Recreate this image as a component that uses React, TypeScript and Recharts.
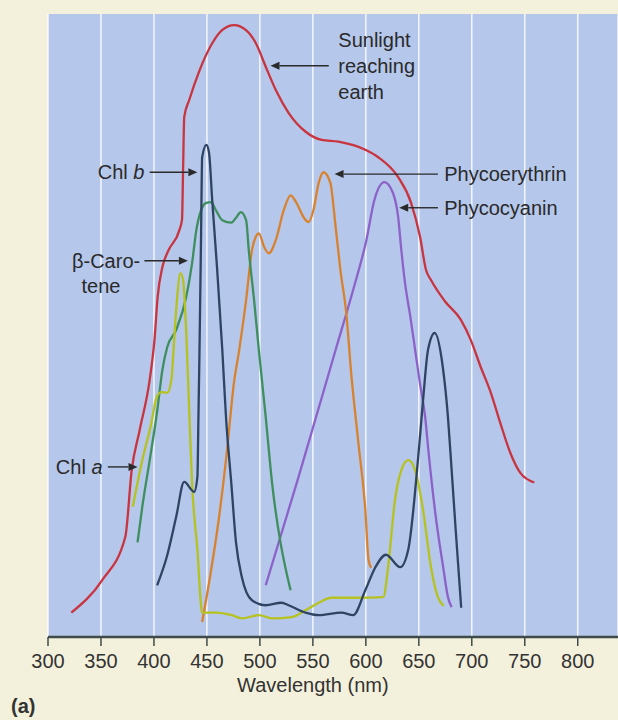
import React from "react";
import {
  LineChart,
  Line,
  XAxis,
  YAxis,
  CartesianGrid,
  ReferenceLine,
  ReferenceDot,
} from "recharts";

// [wavelength nm, relative absorption 0-100]
const sunlight = [
  [322, 3.9], [351, 9.1], [373, 16.1], [379, 26.8], [386.5, 33.2], [396, 41.3],
  [400.5, 47.7], [403.5, 54.6], [408, 59.4], [413.5, 62], [424, 65.3],
  [426.5, 67], [427.5, 75], [428.6, 83.5], [433.3, 86.2], [442.7, 90.8],
  [455, 95.3], [464.3, 97.4], [475.6, 98.2], [486.9, 97.4], [496.2, 95.3],
  [505.6, 91.5], [515, 87.8], [527.2, 84.1], [543.2, 81.1], [558.2, 79.8],
  [574.2, 79.5], [599.5, 78.2], [611.7, 77], [630.5, 73.8], [642.7, 69.7],
  [651.2, 64.2], [656.8, 58.9], [661.5, 57.3], [674.6, 53.9], [689.7, 50.9],
  [699, 47.7], [708.5, 43.3], [718, 39.2], [727, 34.3], [736.5, 29.5],
  [746, 26.3], [759, 24.8],
];

const chlB = [
  [403, 8.3], [412, 12.8], [421, 19.3], [428.5, 24.9], [438, 23.3], [441, 25.7],
  [442, 35.3], [443, 46.1], [444.5, 64.8], [445.5, 77], [449.5, 79], [452, 77.7],
  [455, 70.1], [459.5, 59.4], [464.5, 46.1], [468, 35.3], [473, 24.7],
  [477.5, 15.1], [483, 9.6], [492.5, 5.9], [505.5, 5.1], [520.5, 5.5],
  [527, 5.1], [543, 3.9], [555.5, 3.5], [577, 3.9], [588, 3.5], [599.5, 7.5],
  [609, 11.2], [619, 13.2], [632.5, 11.2], [640, 14], [650, 30], [654, 38],
  [658.7, 46.1], [665, 48.8], [672.5, 43.5], [677.5, 35.3], [680.5, 28],
  [685, 16.7], [690, 4.7],
];

const chlA = [
  [380, 20.9], [389, 28.4], [397.5, 34.3], [402.5, 38.5], [407, 39.3],
  [412.5, 39.2], [416.5, 41.3], [418.5, 46.1], [421, 52.5], [425, 58.4],
  [427.5, 57.3], [430.5, 48.8], [433.5, 35.3], [436, 24.7], [441, 14],
  [445.5, 3.9], [449.5, 3.9], [458.5, 3.9], [473.5, 3.5], [483, 3], [499, 3.5],
  [511.5, 3], [530, 3.2], [543, 4.3], [555.5, 5.5], [567.5, 6.3], [593, 6.3],
  [616.5, 6.4], [621, 11.2], [627.5, 22], [633.5, 26.8], [640, 28.4],
  [646.5, 26.8], [654, 20.4], [661.5, 11.2], [668, 6.4], [673.5, 5],
];

const betaCarotene = [
  [384.5, 15.2], [389, 20.9], [396, 28.4], [403, 36.2], [408, 42.9],
  [412.5, 46.5], [421, 49.3], [430.5, 54.6], [436, 60], [440, 65.3],
  [444.5, 68.5], [449.5, 69.7], [454, 69.8], [458.5, 68.5], [464.5, 66.9],
  [473, 66.5], [477.5, 67.3], [482, 68.2], [487, 66.9], [489.5, 62.1],
  [494.5, 54.1], [499, 46.1], [505.5, 35.3], [511.5, 24.7], [519.5, 15.1],
  [524.5, 10.8], [529, 7.5],
];

const phycoerythrin = [
  [445.5, 2.4], [452, 8.7], [461.5, 19.3], [469, 30], [475.5, 40.8],
  [480.5, 46.1], [487, 54.1], [492.5, 62.1], [496, 64.2], [499, 64.8],
  [504, 62.6], [508.5, 61.6], [515, 63.7], [522.5, 68.5], [529, 70.9],
  [534.5, 69.7], [541.5, 67.3], [546, 66.6], [550.5, 68.5], [555.5, 72.9],
  [560, 74.6], [566.5, 72.9], [571.5, 65.8], [576, 58.9], [581.5, 52],
  [586.5, 41.7], [593, 31.1], [599.5, 20.4], [602.5, 12.4], [605, 11.1],
];

const phycocyanin = [
  [505.5, 8.3], [536.5, 25.7], [571.5, 46.1], [588, 55.7], [600.5, 63.7],
  [608, 70.1], [617.5, 73], [625.5, 71.3], [630.5, 67.4], [633.5, 62.1],
  [637, 56.8], [642, 51.4], [646.5, 46.1], [651, 40.8], [656, 35.3],
  [659, 30], [666, 19.3], [673, 11.2], [677.5, 6.4], [681, 4.8],
];

const xTicks = [300, 350, 400, 450, 500, 550, 600, 650, 700, 750, 800];
const X_MIN = 300;
const X_MAX = 838;

const series = [
  { name: "Sunlight reaching earth", pts: sunlight, color: "#c9343f" },
  { name: "Phycocyanin", pts: phycocyanin, color: "#8c62c9" },
  { name: "Phycoerythrin", pts: phycoerythrin, color: "#d9822e" },
  { name: "β-Carotene", pts: betaCarotene, color: "#3f8e5e" },
  { name: "Chl a", pts: chlA, color: "#b6c21e" },
  { name: "Chl b", pts: chlB, color: "#2e4462" },
];

// callout text lines: [text ("|" starts italic part), nm, absorption, anchor]
const calloutLabels: [string, number, number, string][] = [
  ["Sunlight", 574, 95.9, "start"],
  ["reaching", 574, 91.7, "start"],
  ["earth", 574, 87.5, "start"],
  ["Phycoerythrin", 674, 74.3, "start"],
  ["Phycocyanin", 674, 68.9, "start"],
  ["Chl |b", 391, 74.6, "end"],
  ["β-Caro-", 387, 60.4, "end"],
  ["tene", 350, 56.3, "middle"],
  ["Chl |a", 351.5, 27.3, "end"],
];

// callout arrows: [tail nm, head nm, absorption]
const calloutArrows: [number, number, number][] = [
  [565, 510, 91.7],
  [668, 570.5, 74.3],
  [668, 631.5, 68.9],
  [396, 441, 74.6],
  [391, 432, 60.4],
  [356.5, 384.5, 27.3],
];

const FONT = "'Liberation Sans', Arial, Helvetica, sans-serif";
const INK = "#2a2a2a";

function Arrow(p: any) {
  const { x1, y1, x2, y2 } = p;
  const dx = x2 - x1;
  const dy = y2 - y1;
  const len = Math.sqrt(dx * dx + dy * dy) || 1;
  const ux = dx / len;
  const uy = dy / len;
  const hl = 9;
  const hw = 4;
  const bx = x2 - ux * hl;
  const by = y2 - uy * hl;
  return (
    <g>
      <line x1={x1} y1={y1} x2={bx} y2={by} stroke={INK} strokeWidth={1.4} />
      <polygon
        points={`${x2},${y2} ${bx - uy * hw},${by + ux * hw} ${bx + uy * hw},${by - ux * hw}`}
        fill={INK}
      />
    </g>
  );
}

function labelShape(txt: string, anchor: string) {
  return (p: any) => {
    const [plain, ital] = txt.split("|");
    return (
      <text
        x={p.cx}
        y={p.cy}
        dy="0.35em"
        textAnchor={anchor}
        fontFamily={FONT}
        fontSize={20}
        fill={INK}
      >
        {plain}
        {ital !== undefined && <tspan fontStyle="italic">{ital}</tspan>}
      </text>
    );
  };
}

export default function App() {
  return (
    <div style={{ position: "relative", width: 618, height: 720, background: "#f3f1dc" }}>
      <style>{"body{margin:0}"}</style>
      <LineChart
        width={618}
        height={720}
        margin={{ top: 14, right: 0, left: 48, bottom: 23 }}
      >
        <CartesianGrid
          horizontal={false}
          fill="#b5c7ea"
          stroke="#ffffff"
          strokeOpacity={0.85}
          strokeWidth={1.5}
        />
        <XAxis
          type="number"
          dataKey="nm"
          domain={[X_MIN, X_MAX]}
          ticks={xTicks}
          allowDataOverflow
          height={60}
          tickSize={9}
          tickMargin={8}
          tick={{ fontSize: 20, fill: "#333", fontFamily: FONT }}
          axisLine={{ stroke: "#3f4b49", strokeWidth: 2.5 }}
          tickLine={{ stroke: "#3f4b49", strokeWidth: 1.5 }}
          label={{
            content: (p: any) => {
              const vb = p.viewBox;
              return (
                <text
                  x={vb.x + (vb.width * (550 - X_MIN)) / (X_MAX - X_MIN)}
                  y={vb.y + 55}
                  textAnchor="middle"
                  fontFamily={FONT}
                  fontSize={20}
                  fill="#333"
                >
                  Wavelength (nm)
                </text>
              );
            },
          }}
        />
        <YAxis
          type="number"
          domain={[0, 100]}
          width={0}
          tick={false}
          tickLine={false}
          axisLine={{ stroke: "#3f5a4f", strokeWidth: 1.5 }}
          label={{
            content: (p: any) => {
              const vb = p.viewBox;
              const x = vb.x - 26;
              const y = vb.y + vb.height * 0.467;
              return (
                <text
                  x={x}
                  y={y}
                  transform={`rotate(-90, ${x}, ${y})`}
                  textAnchor="middle"
                  dy="0.35em"
                  fontFamily={FONT}
                  fontSize={19}
                  fill="#333"
                >
                  Absorption
                </text>
              );
            },
          }}
        />
        {series.map((s) => (
          <Line
            key={s.name}
            name={s.name}
            data={s.pts.map(([nm, v]) => ({ nm, v }))}
            dataKey="v"
            type="monotone"
            stroke={s.color}
            strokeWidth={2.3}
            dot={false}
            activeDot={false}
            isAnimationActive={false}
          />
        ))}
        {calloutArrows.map(([from, to, y], i) => (
          <ReferenceLine
            key={"a" + i}
            segment={[
              { x: from, y },
              { x: to, y },
            ]}
            shape={Arrow}
          />
        ))}
        {calloutLabels.map(([txt, x, y, anchor], i) => (
          <ReferenceDot
            key={"t" + i}
            x={x}
            y={y}
            r={0}
            shape={labelShape(txt, anchor)}
          />
        ))}
      </LineChart>
      <div
        style={{
          position: "absolute",
          left: 11,
          top: 695,
          fontFamily: FONT,
          fontSize: 20,
          color: "#333",
          fontWeight: 600,
        }}
      >
        (a)
      </div>
    </div>
  );
}
